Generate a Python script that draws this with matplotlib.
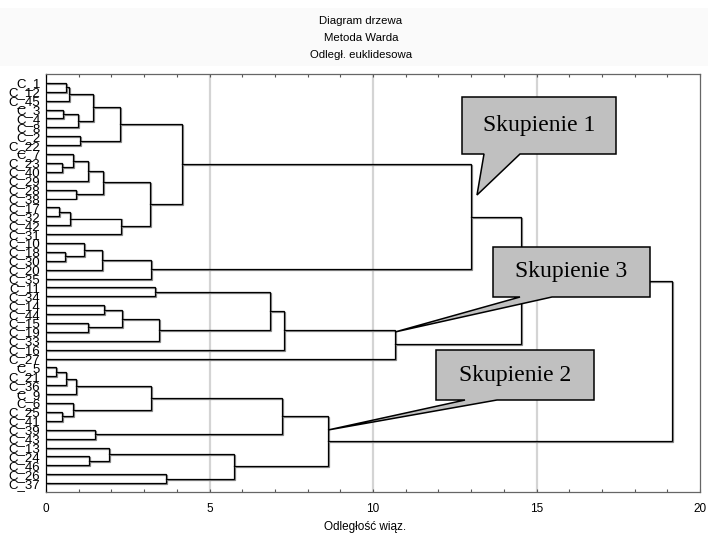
import matplotlib
matplotlib.use("Agg")
import matplotlib.pyplot as plt
import matplotlib.patheffects as pe
from matplotlib.patches import Polygon, Rectangle

# leaves in display order (top to bottom)
leaves = [
    "C_1", "C_12", "C_45", "C_3", "C_4", "C_8", "C_2", "C_22", "C_7", "C_23",
    "C_40", "C_29", "C_28", "C_38", "C_17", "C_32", "C_42", "C_31", "C_10", "C_18",
    "C_30", "C_20", "C_35", "C_11", "C_34", "C_14", "C_44", "C_15", "C_19", "C_33",
    "C_16", "C_27", "C_5", "C_21", "C_36", "C_9", "C_6", "C_25", "C_41", "C_39",
    "C_43", "C_13", "C_24", "C_46", "C_26", "C_37",
]

# linkage: ids < len(leaves) are leaves, the rest are earlier merges (46 + k)
merge_left = [0, 46, 3, 48, 47, 6, 50, 9, 8, 54, 12, 55, 14, 58, 59, 57, 52,
              19, 18, 64, 65, 62, 23, 25, 27, 69, 71, 68, 73, 74, 67,
              32, 77, 78, 37, 36, 79, 39, 82, 42, 41, 44, 86, 84, 76]
merge_right = [1, 2, 4, 5, 49, 7, 51, 10, 53, 11, 13, 56, 15, 16, 17, 60, 61,
               20, 63, 21, 22, 66, 24, 26, 28, 70, 29, 72, 30, 31, 75,
               33, 34, 35, 38, 80, 81, 40, 83, 43, 85, 45, 87, 88, 89]
merge_height = [0.62, 0.70, 0.52, 0.99, 1.44, 1.04, 2.27, 0.48, 0.83, 1.29, 0.93,
                1.74, 0.40, 0.73, 2.30, 3.19, 4.15, 0.59, 1.17, 1.71, 3.20, 13.0,
                3.34, 1.78, 1.29, 2.32, 3.47, 6.85, 7.29, 10.67, 14.53,
                0.30, 0.62, 0.93, 0.48, 0.83, 3.22, 1.49, 7.21, 1.31, 1.94, 3.66,
                5.75, 8.62, 19.15]

title_lines = ["Diagram drzewa", "Metoda Warda", "Odległ. euklidesowa"]
x_ticks = [0, 5, 10, 15, 20]
x_label = "Odległość wiąz."
callout_text = ["Skupienie 1", "Skupienie 3", "Skupienie 2"]

W, H = 708, 535
fig = plt.figure(figsize=(W / 100, H / 100), dpi=100)
fig.patch.set_facecolor("white")


def px(x, y):
    return x / W, 1 - y / H


# faint title band
fig.patches.append(Rectangle(px(0, 66), 1, 58 / H, transform=fig.transFigure,
                             facecolor="#fafafa", edgecolor="none", zorder=0))
for txt, y in zip(title_lines, [21, 38, 55]):
    fig.text(*px(361, y), txt, ha="center", va="center", fontsize=8.2,
             family=["Liberation Sans", "DejaVu Sans"])

ax = fig.add_axes([46 / W, 1 - 492 / H, 654 / W, 418 / H])
n = len(leaves)
ax.set_xlim(0, 20)
ax.set_ylim(n, -1)

for g in (5, 10, 15):
    ax.axvline(g, color="#d4d4d4", lw=1.6, zorder=1)

shadow = [pe.SimpleLineShadow(offset=(0.7, -0.7), shadow_color="#8a8a8a", alpha=1.0), pe.Normal()]
pos = {i: (0.0, float(i)) for i in range(n)}
for k, (a, b, h) in enumerate(zip(merge_left, merge_right, merge_height)):
    xa, ya = pos[a]
    xb, yb = pos[b]
    ax.plot([xa, h, h, xb], [ya, ya, yb, yb], color="black", lw=0.9,
            solid_joinstyle="miter", path_effects=shadow, zorder=3)
    pos[n + k] = (h, (ya + yb) / 2)

ax.set_yticks(range(n))
ax.set_yticklabels(leaves, fontsize=9.5, family=["Liberation Sans Narrow", "Liberation Sans", "DejaVu Sans"])
ax.set_xticks(x_ticks)
ax.set_xticklabels([str(t) for t in x_ticks], fontsize=8.5, family=["Liberation Sans", "DejaVu Sans"])
ax.set_xticks(range(0, 21), minor=True)
ax.tick_params(axis="y", direction="in", length=3, width=0.8, pad=4, left=True, right=False)
ax.tick_params(axis="x", which="both", direction="in", top=True, bottom=True, length=2.5,
               width=0.8, color="#555555", pad=8)
for side, sp in ax.spines.items():
    sp.set_color("#666666" if side != "left" else "black")
    sp.set_linewidth(0.9)

fig.text(*px(365, 527), x_label, ha="center", va="center", fontsize=8.5,
         family=["Liberation Sans", "DejaVu Sans"])

# callouts: box corners, wedge base on the bottom edge, tip and text centre (pixels)
callouts = [
    ((462, 97, 616, 154), (484, 520), (477, 195), (539, 125)),
    ((493, 247, 650, 297), (520, 552), (395, 332), (571, 272)),
    ((436, 350, 594, 400), (465, 497), (328, 430), (515, 376)),
]
for label, (box, base, tip, centre) in zip(callout_text, callouts):
    x0, y0, x1, y1 = box
    verts = [px(x0, y0), px(x1, y0), px(x1, y1), px(base[1], y1), px(*tip),
             px(base[0], y1), px(x0, y1)]
    fig.patches.append(Polygon(verts, closed=True, transform=fig.transFigure,
                               facecolor="#c0c0c0", edgecolor="black", lw=1.1, zorder=5))
    fig.text(*px(*centre), label, ha="center", va="center", fontsize=17,
             family=["Liberation Serif", "DejaVu Serif"], zorder=6)

fig.savefig("out.png", dpi=100)
